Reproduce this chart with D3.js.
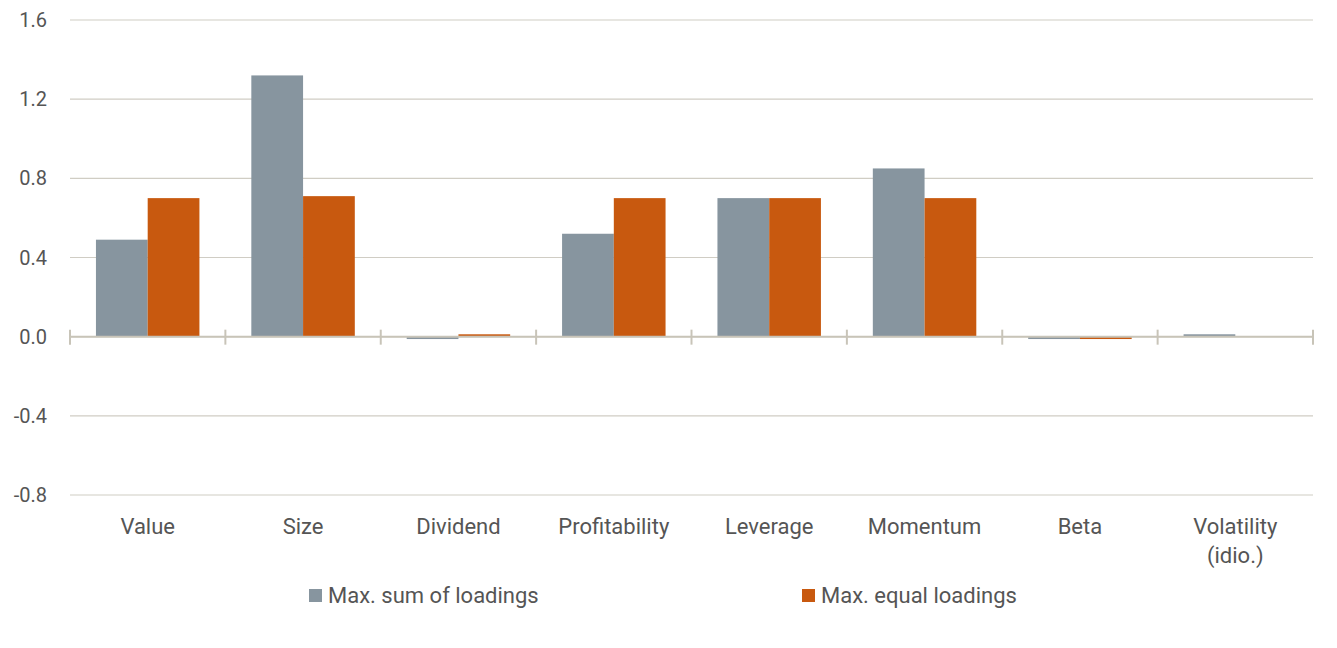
<html>
<head>
<script src="https://cdnjs.cloudflare.com/ajax/libs/d3/7.8.5/d3.min.js"></script>
<style>body{margin:0;background:#fff;font-family:Roboto,"Open Sans",sans-serif;}</style>
</head>
<body>
<script>
var categories = ["Value", "Size", "Dividend", "Profitability", "Leverage", "Momentum", "Beta", "Volatility\n(idio.)"];
var sumLoadings = [0.49, 1.32, -0.012, 0.52, 0.70, 0.85, -0.012, 0.012];
var equalLoadings = [0.70, 0.71, 0.012, 0.70, 0.70, 0.70, -0.012, 0];
var seriesNames = ["Max. sum of loadings", "Max. equal loadings"];
var colors = ["#87959f", "#c8590f"];
var yTicks = [-0.8, -0.4, 0, 0.4, 0.8, 1.2, 1.6];

var svg = d3.select("body").append("svg").attr("width", 1337).attr("height", 648);
var x = d3.scaleBand().domain(categories).range([70, 1313]).paddingInner(0).paddingOuter(0);
var y = d3.scaleLinear().domain([-0.8, 1.6]).range([495, 20]);
var inner = d3.scaleBand().domain([0, 1]).range([x.bandwidth() * 0.167, x.bandwidth() * 0.833]);

svg.selectAll(".grid").data(yTicks).enter().append("line")
  .attr("x1", 70).attr("x2", 1313)
  .attr("y1", function(d){ return y(d); }).attr("y2", function(d){ return y(d); })
  .attr("stroke", "#d0cdc4").attr("stroke-width", 1.2);

svg.selectAll(".ylab").data(yTicks).enter().append("text")
  .attr("x", 47).attr("y", function(d){ return y(d) + 7; })
  .attr("text-anchor", "end").attr("font-size", 20).attr("fill", "#555")
  .text(function(d){ return d.toFixed(1); });

var series = [sumLoadings, equalLoadings];
series.forEach(function(vals, s){
  svg.selectAll(".bar" + s).data(vals).enter().append("rect")
    .attr("x", function(d, i){ return x(categories[i]) + inner(s); })
    .attr("width", inner.bandwidth())
    .attr("y", function(d){ return y(Math.max(0, d)); })
    .attr("height", function(d){ return Math.abs(y(d) - y(0)); })
    .attr("fill", colors[s]);
});

svg.append("line").attr("x1", 70).attr("x2", 1313).attr("y1", y(0)).attr("y2", y(0))
  .attr("stroke", "#c8c4b8").attr("stroke-width", 2);
var tickX = categories.map(function(c){ return x(c); }).concat([1313]);
svg.selectAll(".tick").data(tickX).enter().append("line")
  .attr("x1", function(d){ return d; }).attr("x2", function(d){ return d; })
  .attr("y1", y(0) - 7).attr("y2", y(0) + 8)
  .attr("stroke", "#c8c4b8").attr("stroke-width", 2);

categories.forEach(function(c){
  var t = svg.append("text").attr("text-anchor", "middle").attr("font-size", 22).attr("fill", "#555");
  c.split("\n").forEach(function(line, k){
    t.append("tspan").attr("x", x(c) + x.bandwidth() / 2).attr("y", 534 + k * 29).text(line);
  });
});

var legX = [309, 802];
seriesNames.forEach(function(n, s){
  svg.append("rect").attr("x", legX[s]).attr("y", 589).attr("width", 13).attr("height", 13).attr("fill", colors[s]);
  svg.append("text").attr("x", legX[s] + 19).attr("y", 603).attr("font-size", 22).attr("fill", "#555").text(n);
});
</script>
</body>
</html>
